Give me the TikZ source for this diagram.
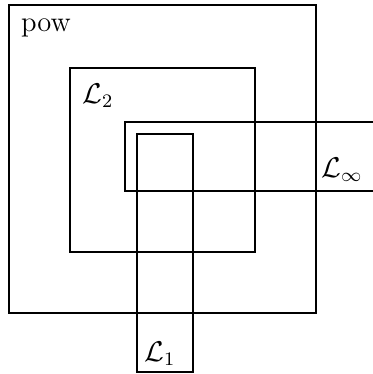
\documentclass[tikz,border=0pt]{standalone}
\usepackage{amsmath}
\usepackage{amssymb}
\usetikzlibrary{calc}

\begin{document}
\begin{tikzpicture}[x=0.42pt,y=-0.42pt,line width=0.6pt,every node/.style={font=\large}]
\useasboundingbox (0,0) rectangle (373,374);

% Outer box
\draw (9,5) rectangle (316,313);
\node (pow) at (46,28) {pow};

% Box L2
\draw (70,68) rectangle (255,252);
\node (ltwo) at (98,96) {$\mathcal{L}_2$};

% Box L infinity, runs out at the right
\draw (373,122) -- (125,122) -- (125,191) -- (373,191);
\node (linf) at (342,170) {$\mathcal{L}_\infty$};

% Box L1
\draw (137,134) rectangle (193,372);
\node (lone) at (160,354) {$\mathcal{L}_1$};

\end{tikzpicture}
\end{document}
